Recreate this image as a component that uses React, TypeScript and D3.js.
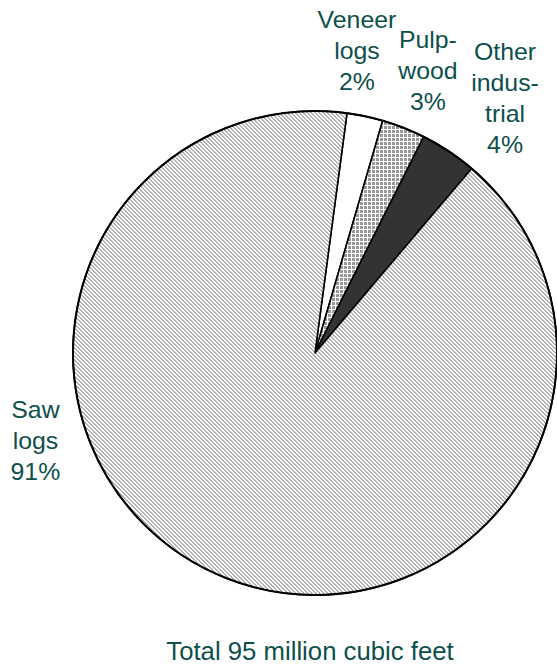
import { useMemo } from 'react';
import * as d3 from 'd3';

// Harvest by product, share of total volume (%), clockwise from the veneer slice
const categories = ['Veneer logs', 'Pulpwood', 'Other industrial', 'Saw logs'];
const shares = [2.4, 2.9, 3.8, 90.9];
const labelLines = [
  ['Veneer', 'logs', '2%'],
  ['Pulp-', 'wood', '3%'],
  ['Other', 'indus-', 'trial', '4%'],
  ['Saw', 'logs', '91%'],
];
const totalNote = 'Total 95 million cubic feet';

// where each label block sits: angle (deg, clockwise from 12 o'clock) and distance from centre
const labelAngle = [7.9, 21.8, 36.7, 252.6];
const labelRadius = [305, 304, 318, 293];

const fills = ['#ffffff', 'url(#xhatch)', '#333333', 'url(#diag)'];
const textColor = '#0d4f4b';

export default function App() {
  const width = 557;
  const height = 664;
  const cx = 315;
  const cy = 353;
  const r = 242;
  const fontSize = 23;
  const lineH = 31;

  const arcs = useMemo(
    () =>
      d3
        .pie<number>()
        .sort(null)
        .startAngle((7.6 * Math.PI) / 180)
        .endAngle((7.6 * Math.PI) / 180 + 2 * Math.PI)(shares),
    []
  );
  const arcGen = d3.arc<d3.PieArcDatum<number>>().innerRadius(0).outerRadius(r);

  // 4x4 bitmap of a "\" stripe: two grey pixels per row, shifted one per row
  const diagPixels = d3.range(4).flatMap((row) => [row, (row + 1) % 4].map((col) => [col, row]));

  return (
    <svg
      width={width}
      height={height}
      style={{ position: 'absolute', left: 0, top: 0, background: '#fff' }}
      fontFamily="'Liberation Sans', Arial, sans-serif"
    >
      <defs>
        <pattern id="diag" width={4} height={4} patternUnits="userSpaceOnUse">
          <rect width={4} height={4} fill="#ffffff" />
          {diagPixels.map(([px, py]) => (
            <rect
              key={`${px}-${py}`}
              x={px}
              y={py}
              width={1}
              height={1}
              fill="#b2b2b2"
              shapeRendering="crispEdges"
            />
          ))}
        </pattern>
        <pattern id="xhatch" width={4} height={4} patternUnits="userSpaceOnUse">
          <rect width={4} height={4} fill="#999999" />
          <rect x={0} y={0} width={1} height={4} fill="#ffffff" />
          <rect x={0} y={0} width={4} height={1} fill="#ffffff" />
        </pattern>
      </defs>

      <g transform={`translate(${cx},${cy})`}>
        {arcs.map((a, i) => (
          <path
            key={categories[i]}
            d={arcGen(a) ?? undefined}
            fill={fills[i]}
            stroke="#000"
            strokeWidth={1.6}
            strokeLinejoin="round"
          />
        ))}
        <circle r={r} fill="none" stroke="#000" strokeWidth={2} />

        {labelLines.map((lines, i) => {
          const [lx, ly] = d3.pointRadial((labelAngle[i] * Math.PI) / 180, labelRadius[i]);
          const top = ly - ((lines.length - 1) * lineH) / 2;
          return (
            <g key={`lbl-${i}`}>
              {lines.map((t, j) => (
                <text
                  key={j}
                  transform={`translate(${lx},${top + j * lineH}) scale(1.08,1)`}
                  dy="0.36em"
                  textAnchor="middle"
                  fontSize={fontSize}
                  fill={textColor}
                >
                  {t}
                </text>
              ))}
            </g>
          );
        })}
      </g>

      <text
        transform={`translate(310,660) scale(1.03,1)`}
        textAnchor="middle"
        fontSize={25}
        fill={textColor}
      >
        {totalNote}
      </text>
    </svg>
  );
}
